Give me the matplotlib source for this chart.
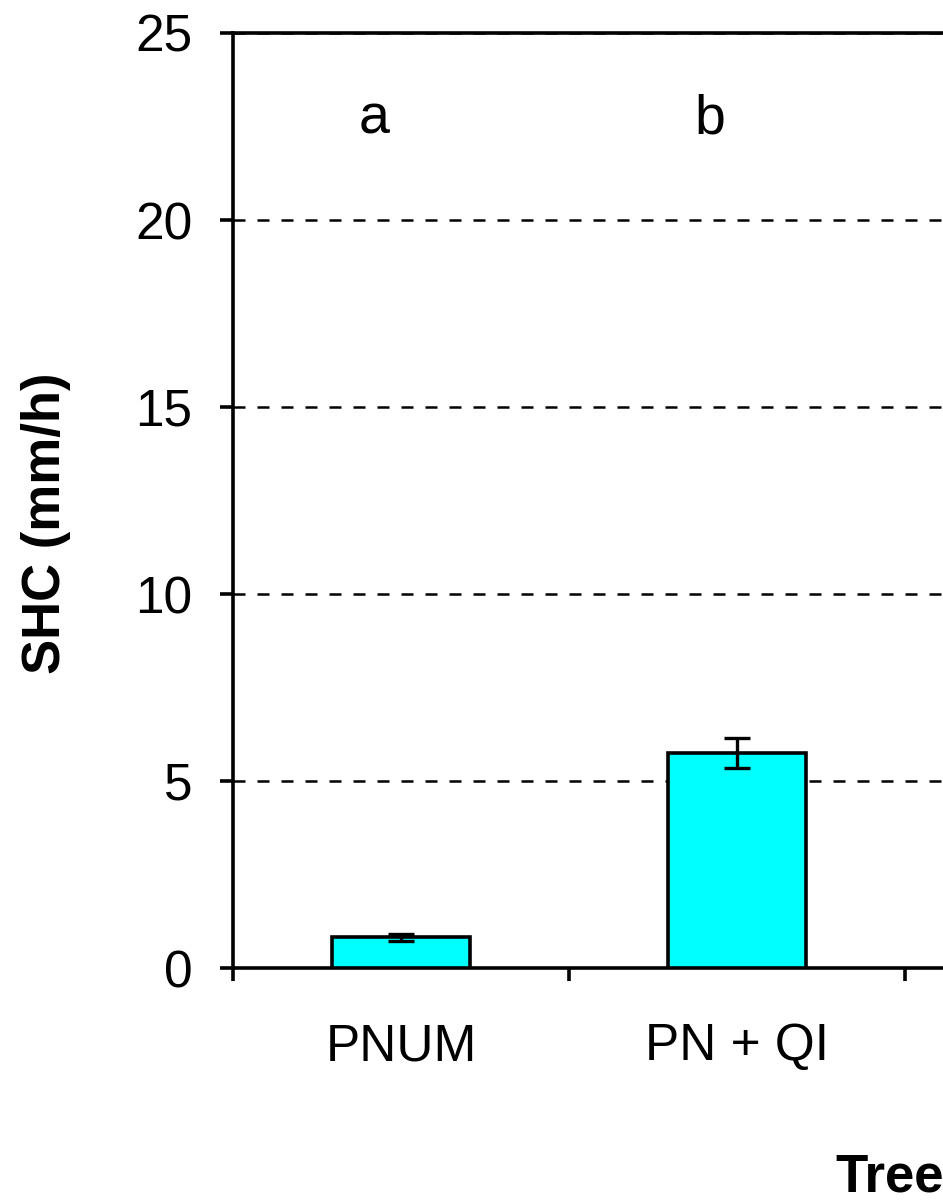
import matplotlib
matplotlib.use("Agg")
import numpy as np
import matplotlib.pyplot as plt

plt.rcParams["font.family"] = ["Liberation Sans", "DejaVu Sans"]
plt.rcParams["font.size"] = 37

# data
categories = ["PNUM", "PN + QI"]
shc_mean = [0.82, 5.75]
shc_err = [0.1, 0.4]
letters = ["a", "b"]
n_groups = 3  # axis runs on past the right edge of the crop

fig = plt.figure(figsize=(9.43, 12), dpi=100)
# axes is wider than the figure: the original chart is cropped on the right
ax = fig.add_axes([233 / 943, 1 - 968 / 1200, 1008 / 943, 935 / 1200])

x = np.arange(len(categories))
ax.bar(x, shc_mean, width=0.41, color="#00FFFF", edgecolor="black", linewidth=2.6,
       yerr=shc_err, error_kw=dict(ecolor="black", elinewidth=2.4, capsize=9.7, capthick=2.4),
       zorder=3)

for xi, lab in zip(x, letters):
    ax.text(xi - 0.08, 22.7, lab, ha="center", va="center", fontsize=40)

ax.set_xlim(-0.5, n_groups - 0.5)
ax.set_ylim(0, 25)
ax.set_yticks(np.arange(0, 26, 5))
ax.set_xticks(x)
ax.set_xticklabels(categories)
ax.set_xticks(np.arange(-0.5, n_groups, 1.0), minor=True)

ax.tick_params(axis="x", which="major", length=0, pad=39)
ax.tick_params(axis="x", which="minor", length=9, width=2.6, direction="out")
ax.tick_params(axis="y", which="major", length=9.4, width=2.6, direction="out", pad=20)

ax.set_axisbelow(True)
ax.yaxis.grid(True, linestyle=(0, (4.8, 4.8)), color="black", linewidth=1.8)

for side in ["left", "top", "bottom", "right"]:
    ax.spines[side].set_linewidth(2.6)

fig.text(21 / 943, 1 - 523 / 1200, "SHC (mm/h)", rotation=90, ha="left", va="center",
         fontweight="bold", fontsize=38)
fig.text(835 / 943, 1 - 1192 / 1200, "Tree", ha="left", va="baseline",
         fontweight="bold", fontsize=38)

plt.savefig("out.png", dpi=100)
